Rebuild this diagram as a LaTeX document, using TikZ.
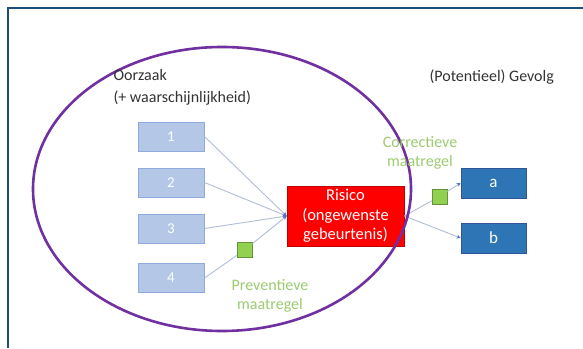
\documentclass[tikz,border=0pt]{standalone}
\usepackage{fontspec}
\setmainfont{Carlito}
\usetikzlibrary{arrows.meta}
\definecolor{framecol}{HTML}{1F4E79}
\definecolor{ovalcol}{HTML}{7030A0}
\definecolor{causefill}{HTML}{B4C7E7}
\definecolor{causeline}{HTML}{8FAADC}
\definecolor{effectfill}{HTML}{2E75B6}
\definecolor{effectline}{HTML}{2F5597}
\definecolor{riskred}{HTML}{FF0000}
\definecolor{riskline}{HTML}{C00000}
\definecolor{measure}{HTML}{92D050}
\definecolor{measuretext}{HTML}{9CCB70}
\definecolor{linkcol}{HTML}{B0BED6}
\definecolor{tipcol}{HTML}{4472C4}
\tikzset{
  x=1pt, y=-1pt,
  cause/.style={draw=causeline, fill=causefill, line width=1pt, minimum width=66pt, minimum height=29pt,
    inner sep=0pt, text=white, font=\fontsize{15}{17}\selectfont},
  effect/.style={draw=effectline, fill=effectfill, line width=0.8pt, minimum width=65pt, minimum height=30pt,
    inner sep=0pt, text=white, font=\fontsize{17}{19}\selectfont},
  risk/.style={draw=riskline, fill=riskred, line width=0.8pt, minimum width=117pt, minimum height=60pt,
    inner sep=0pt, text=white, align=center, font=\fontsize{16.5}{19.5}\selectfont},
  measurebox/.style={draw=measure!70!black, fill=measure, line width=0.6pt, minimum size=15pt, inner sep=0pt},
  label/.style={text=black!80, align=left, anchor=west, font=\fontsize{16}{22}\selectfont},
  greenlabel/.style={text=measuretext, align=center, font=\fontsize{16}{19}\selectfont},
  link/.style={draw=linkcol, line width=0.9pt},
  tiplink/.style={link, -{Stealth[length=4pt, width=4pt, color=tipcol]}},
}
\begin{document}
\begin{tikzpicture}
  \useasboundingbox (0,0) rectangle (583,348);
  \fill[white] (0,0) rectangle (583,348);
  % slide frame
  \draw[framecol, line width=2pt] (7.5,348) -- (7.5,8) -- (583,8);

  % cause and effect boxes
  \node[cause] (c1) at (171,136.5) {1};
  \node[cause] (c2) at (171,182.5) {2};
  \node[cause] (c3) at (171,228.5) {3};
  \node[cause] (c4) at (171,278) {4};
  \node[risk] (risk) at (345.5,216) {Risico\\(ongewenste\\gebeurtenis)};
  \node[effect] (ea) at (493.5,183) {a};
  \node[effect] (eb) at (493.5,238) {b};

  % control measures
  \node[measurebox] (prev) at (244.5,250) {};
  \node[measurebox] (corr) at (439.5,196.5) {};

  % connectors
  \draw[tiplink] (c1.east) -- (risk.west);
  \draw[tiplink] (c2.east) -- (risk.west);
  \draw[tiplink] (c3.east) -- (risk.west);
  \draw[link] (c4.east) -- (prev);
  \draw[tiplink] (prev) -- (risk.west);
  \draw[link] (risk.east) -- (corr);
  \draw[tiplink] (corr) -- (ea.west);
  \draw[tiplink] (risk.east) -- (eb.west);

  % scope of the cause
  \draw[ovalcol, line width=2.6pt] (222,189) ellipse [x radius=189, y radius=142];

  % texts
  \node[label] (oorzaak) at (110,87) {Oorzaak\\(+ waarschijnlijkheid)};
  \node[label] (gevolg) at (426,77) {(Potentieel) Gevolg};
  \node[greenlabel] (prevtxt) at (270,296) {Preventieve\\maatregel};
  \node[greenlabel] (corrtxt) at (420,153) {Correctieve\\maatregel};
\end{tikzpicture}
\end{document}
